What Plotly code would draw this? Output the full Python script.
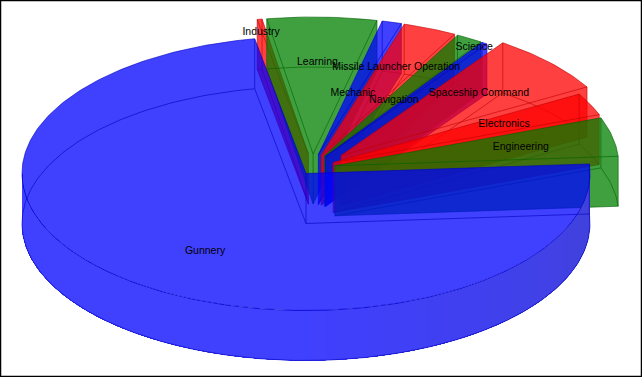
import numpy as np
import plotly.graph_objects as go

# ---- data: share of the pie (degrees of a full turn), clockwise order
categories = ["Electronics", "Engineering", "Gunnery", "Industry", "Learning", "Mechanic",
              "Missile Launcher Operation", "Navigation", "Science", "Spaceship Command"]
values = [9.5, 16.5, 263.6, 1.0, 22.4, 4.0, 11.0, 5.5, 1.2, 25.3]
base_colors = [(255, 0, 0), (0, 128, 0), (0, 0, 255), (255, 0, 0), (0, 128, 0),
               (0, 0, 255), (255, 0, 0), (0, 128, 0), (0, 0, 255), (255, 0, 0)]
label_fx = [0.665, 0.67, 0.58, 0.97, 0.48, 0.47, 0.69, 0.48, 0.935, 0.66]
label_fy = [0.66, 0.65, 0.72, 0.90, 0.67, 0.46, 0.69, 0.476, 0.966, 0.67]

# ---- chart geometry (style, not data)
W, H = 642, 377
START = 60.0
RX, RY, DEPTH = 284.0, 137.0, 50.0
CX, CY = 312.4, 169.0
EX, EY = 23.0, 15.0
EXPLODE_EXACT = {"Gunnery": (306.0, 173.5)}
EXPLODE_SCALE = {"Spaceship Command": (39.0, 20.0)}
ALPHA = 0.75
DRAW_ORDER = ["Industry", "Learning", "Mechanic", "Missile Launcher Operation", "Navigation",
              "Science", "Spaceship Command", "Electronics", "Engineering", "Gunnery"]


def arc(cx, cy, t0, t1, step=1.0):
    n = max(2, int(abs(t1 - t0) / step) + 2)
    t = np.radians(np.linspace(t0, t1, n))
    return cx + RX * np.sin(t), cy - RY * np.cos(t)


def hull(xs, ys):
    pts = sorted(set(zip(np.round(xs, 3).tolist(), np.round(ys, 3).tolist())))
    def half(points):
        out = []
        for p in points:
            while len(out) > 1 and (out[-1][0]-out[-2][0])*(p[1]-out[-2][1]) - (out[-1][1]-out[-2][1])*(p[0]-out[-2][0]) <= 0:
                out.pop()
            out.append(p)
        return out[:-1]
    h = half(pts) + half(pts[::-1])
    h.append(h[0])
    return [p[0] for p in h], [p[1] for p in h]


fig = go.Figure()
edges = np.cumsum([0.0] + values) + START
slices = {}
for i, name in enumerate(categories):
    t0, t1 = edges[i], edges[i + 1]
    m = np.radians((t0 + t1) / 2)
    if name in EXPLODE_EXACT:
        ax, ay = EXPLODE_EXACT[name]
    else:
        ex, ey = EXPLODE_SCALE.get(name, (EX, EY))
        ax, ay = CX + ex * np.sin(m), CY - ey * np.cos(m)
    slices[name] = (i, t0, t1, m, ax, ay)


def add_poly(xs, ys, fill):
    fig.add_trace(go.Scatter(x=list(xs), y=list(ys), mode="lines", fill="toself", fillcolor=fill,
                             line=dict(width=0), hoverinfo="skip", showlegend=False))


def add_line(xs, ys, color, width=1):
    fig.add_trace(go.Scatter(x=list(xs), y=list(ys), mode="lines", line=dict(color=color, width=width),
                             hoverinfo="skip", showlegend=False))


for name in DRAW_ORDER:
    i, t0, t1, m, ax, ay = slices[name]
    r, g, b = base_colors[i]
    fill = f"rgba({r},{g},{b},{ALPHA})"
    edge = f"rgba({int(r*.75)},{int(g*.75)},{int(b*.75)},0.6)"
    tx, ty = arc(ax, ay, t0, t1)
    bx, by = tx, ty + DEPTH
    if t1 - t0 > 180:
        # outer wall band: each step paints over the rest, so no seams between steps
        for a in np.arange(t0, 270, 3):
            wx, wy = arc(ax, ay, a, 270, 1)
            k = np.clip((180 - (a + 1.5)) / 90, 0, 1)
            col = f"rgb({int(64 + 2*k)},{int(64 + 2*k)},{int(255 - 38*k)})"
            add_poly(np.r_[wx, wx[::-1]], np.r_[wy + 0.5, wy[::-1] + DEPTH], col)
        add_poly(np.r_[ax, tx, ax], np.r_[ay, ty, ay], fill)
    else:
        hx, hy = hull(np.r_[ax, tx, ax, bx], np.r_[ay, ty, ay + DEPTH, by])
        add_poly(hx, hy, fill)
    # outlines
    add_line(np.r_[ax, tx, ax], np.r_[ay, ty, ay], edge)
    add_line(np.r_[ax, bx, ax], np.r_[ay + DEPTH, by, ay + DEPTH], edge)
    add_line([ax, ax], [ay, ay + DEPTH], edge)
    add_line([tx[0], tx[0]], [ty[0], ty[0] + DEPTH], edge)
    add_line([tx[-1], tx[-1]], [ty[-1], ty[-1] + DEPTH], edge)

# labels
lx, ly = [], []
for i, name in enumerate(categories):
    _, t0, t1, m, ax, ay = slices[name]
    lx.append(ax + label_fx[i] * RX * np.sin(m))
    ly.append(ay - label_fy[i] * RY * np.cos(m))
fig.add_trace(go.Scatter(x=lx, y=ly, mode="text", text=categories, textposition="middle center",
                         textfont=dict(family="Liberation Sans", size=10.5, color="black"),
                         hoverinfo="skip", showlegend=False))

fig.add_shape(type="rect", xref="x", yref="y", x0=0.5, x1=W - 0.5, y0=0.5, y1=H - 0.5,
              line=dict(color="black", width=1.5), layer="above")
fig.update_layout(width=W, height=H, margin=dict(l=0, r=0, t=0, b=0), paper_bgcolor="white",
                  plot_bgcolor="white", showlegend=False,
                  xaxis=dict(range=[0, W], visible=False, fixedrange=True),
                  yaxis=dict(range=[H, 0], visible=False, fixedrange=True))
fig.write_html("out.html", config=dict(displayModeBar=False),
               post_script="document.body.style.margin='0';document.body.style.overflow='hidden';")
